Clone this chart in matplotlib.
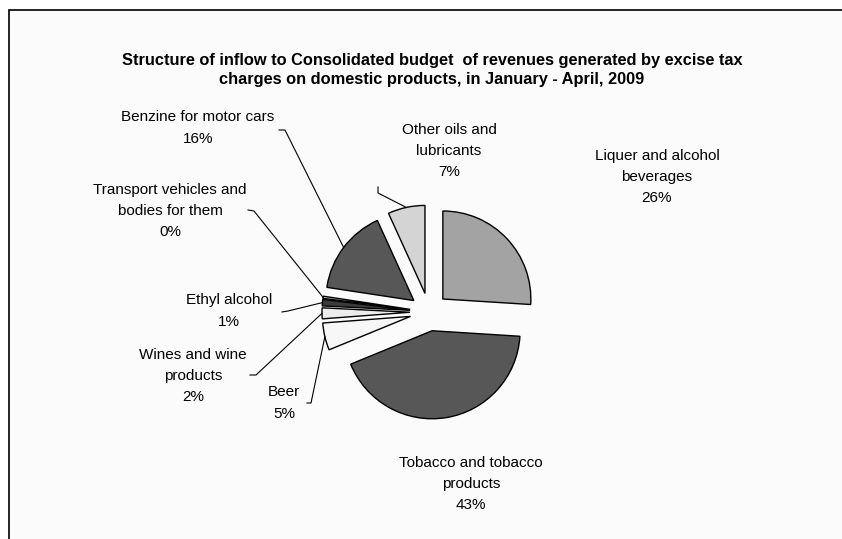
import numpy as np
import matplotlib.pyplot as plt
from matplotlib.patches import Rectangle

plt.rcParams["font.family"] = ["Liberation Sans", "DejaVu Sans"]

# slices, clockwise from 12 o'clock
categories = [
    "Liquer and alcohol\nbeverages",
    "Tobacco and tobacco\nproducts",
    "Beer",
    "Wines and wine\nproducts",
    "Ethyl alcohol",
    "Transport vehicles and\nbodies for them",
    "Benzine for motor cars",
    "Other oils and\nlubricants",
]
shares = [26.0, 42.8, 5.0, 2.0, 1.2, 0.4, 15.8, 6.8]
colors = ["#a3a3a3", "#575757", "#f7f7f7", "#ececec", "#3a3a3a", "#c4c4c4", "#575757", "#d4d4d4"]

W, H = 842, 539
fig = plt.figure(figsize=(W / 100, H / 100), dpi=100)
ax = fig.add_axes([0, 0, 1, 1])

# chart area frame (cut off at right and bottom)
ax.add_patch(Rectangle((9, -20), 900, H - 10 + 20, facecolor="#fbfbfb",
                       edgecolor="black", linewidth=1.2, zorder=0))

cx, cy, r = 429, H - 312, 88
wedges, _ = ax.pie(shares, colors=colors, startangle=90, counterclock=False,
                   explode=[19] * len(shares), radius=r, center=(cx, cy),
                   wedgeprops=dict(edgecolor="black", linewidth=1.0),
                   frame=True)
ax.set_xlim(0, W)
ax.set_ylim(0, H)
ax.set_aspect("equal")
ax.axis("off")

ax.text(432, H - 70, "Structure of inflow to Consolidated budget  of revenues generated by excise tax\n"
        "charges on domestic products, in January - April, 2009",
        ha="center", va="center", fontsize=11.8, fontweight="bold", linespacing=1.35)

# label centres (pixels from top-left) and leader line start / elbow
label_pos = [(657, 177), (471, 484), (284, 403), (193, 376), (229, 311), (170, 211), (198, 128), (449, 151)]
leaders = [None, None,
           [(307, 403), (311, 403)],
           [(250, 375), (256, 375)],
           [(282, 312), (288, 311)],
           [(248, 210), (254, 211)],
           [(279, 130), (285, 130)],
           [(378, 187), (378, 193)]]

for w, name, val, (lx, ly), ld in zip(wedges, categories, shares, label_pos, leaders):
    ax.text(lx, H - ly, f"{name}\n{round(val):.0f}%", ha="center", va="center",
            fontsize=11, linespacing=1.65)
    if ld is None:
        continue
    a = np.deg2rad((w.theta1 + w.theta2) / 2)
    ex = w.center[0] + w.r * np.cos(a)
    ey = w.center[1] + w.r * np.sin(a)
    xs = [p[0] for p in ld] + [ex]
    ys = [H - p[1] for p in ld] + [ey]
    ax.plot(xs, ys, color="black", linewidth=0.8, zorder=3)

fig.savefig("out.png", dpi=100, facecolor="white")
